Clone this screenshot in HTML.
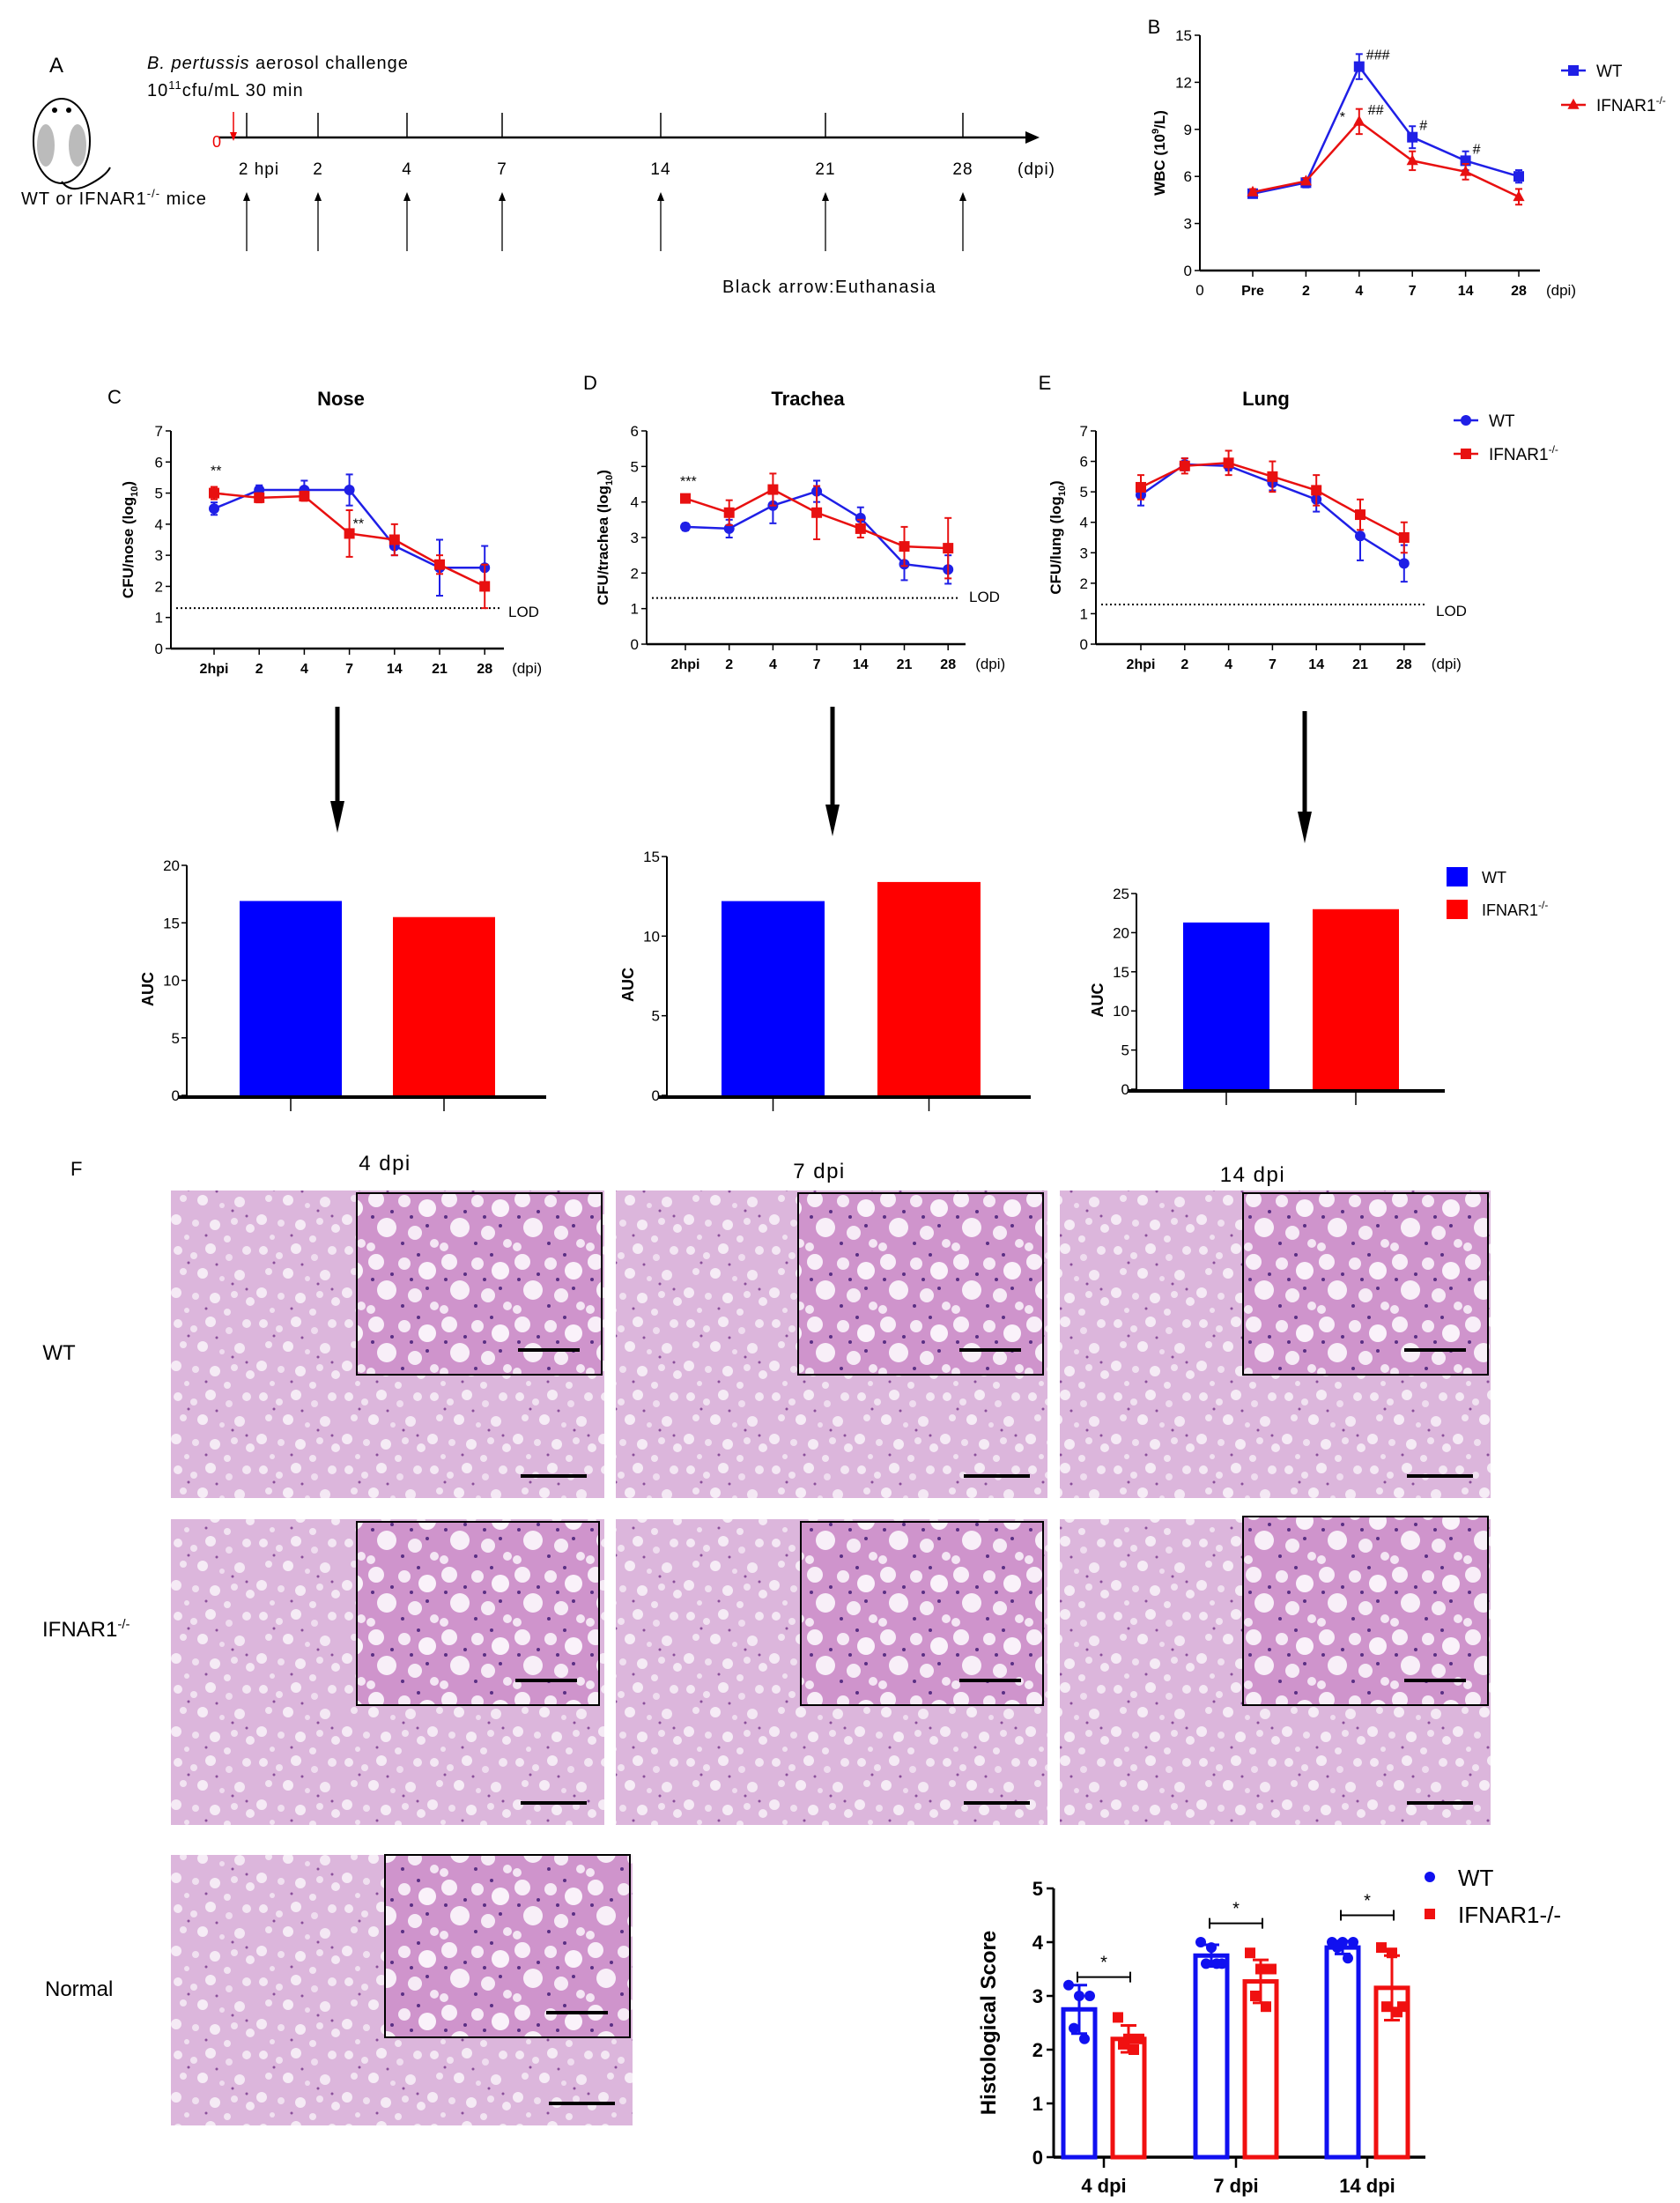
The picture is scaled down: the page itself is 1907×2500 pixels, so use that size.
<!DOCTYPE html>
<html><head><meta charset="utf-8"><style>
html,body{margin:0;padding:0;background:#fff;}
svg{display:block;font-family:"Liberation Sans",sans-serif;}
</style></head><body>
<svg id="fig" xmlns="http://www.w3.org/2000/svg" width="1907" height="2500" viewBox="0 0 1907 2500">
<defs>
<pattern id="tissue" width="97" height="83" patternUnits="userSpaceOnUse">
<rect width="97" height="83" fill="#dcb6dc"/>
<circle cx="8" cy="8" r="5" fill="#f4e8f4"/><circle cx="26" cy="14" r="4" fill="#f1e2f1"/>
<circle cx="45" cy="6" r="6" fill="#f5ebf5"/><circle cx="66" cy="16" r="4" fill="#efdcef"/>
<circle cx="86" cy="8" r="5" fill="#f3e6f3"/><circle cx="14" cy="32" r="4" fill="#f2e4f2"/>
<circle cx="36" cy="34" r="6" fill="#f6ecf6"/><circle cx="58" cy="40" r="3" fill="#efdcef"/>
<circle cx="78" cy="36" r="6" fill="#f4e8f4"/><circle cx="6" cy="56" r="6" fill="#f5eaf5"/>
<circle cx="28" cy="60" r="4" fill="#f0e0f0"/><circle cx="50" cy="62" r="6" fill="#f5ebf5"/>
<circle cx="72" cy="58" r="4" fill="#f1e2f1"/><circle cx="90" cy="66" r="5" fill="#f4e8f4"/>
<circle cx="18" cy="76" r="3" fill="#f0e0f0"/><circle cx="64" cy="78" r="4" fill="#f2e4f2"/>
<circle cx="20" cy="22" r="1.5" fill="#8a4f9a"/><circle cx="52" cy="24" r="1.5" fill="#8a4f9a"/>
<circle cx="70" cy="46" r="1.5" fill="#8a4f9a"/><circle cx="40" cy="74" r="1.5" fill="#8a4f9a"/>
<circle cx="86" cy="52" r="1.5" fill="#8a4f9a"/>
</pattern>
<pattern id="tissue2" width="83" height="71" patternUnits="userSpaceOnUse">
<rect width="83" height="71" fill="#cf94cc"/>
<circle cx="12" cy="12" r="9" fill="#f8eef8"/><circle cx="44" cy="14" r="7" fill="#f6eaf6"/>
<circle cx="70" cy="22" r="10" fill="#faf2fa"/><circle cx="24" cy="44" r="11" fill="#f8eff8"/>
<circle cx="56" cy="50" r="8" fill="#f6ebf6"/><circle cx="6" cy="66" r="5" fill="#f4e6f4"/>
<circle cx="78" cy="62" r="5" fill="#f4e6f4"/>
<circle cx="30" cy="26" r="2" fill="#5a2f84"/><circle cx="52" cy="32" r="2" fill="#5a2f84"/>
<circle cx="42" cy="62" r="2" fill="#5a2f84"/><circle cx="8" cy="32" r="2" fill="#5a2f84"/>
<circle cx="70" cy="42" r="2" fill="#5a2f84"/><circle cx="60" cy="4" r="2" fill="#5a2f84"/>
</pattern>
</defs>
<g id="root"></g>
</svg>
<script>
// ===== Data =====
const timeLabels = ["2hpi","2","4","7","14","21","28"];
const noseWT = [4.5,5.1,5.1,5.1,3.3,2.6,2.6];
const noseWTerr = [0.2,0.15,0.3,0.5,0.3,0.9,0.7];
const noseKO = [5.0,4.85,4.9,3.7,3.5,2.7,2.0];
const noseKOerr = [0.2,0.15,0.15,0.75,0.5,0.3,0.7];
const trachWT = [3.3,3.25,3.9,4.3,3.55,2.25,2.1];
const trachWTerr = [0.1,0.25,0.5,0.3,0.3,0.45,0.4];
const trachKO = [4.1,3.7,4.35,3.7,3.25,2.75,2.7];
const trachKOerr = [0.05,0.35,0.45,0.75,0.25,0.55,0.85];
const lungWT = [4.9,5.9,5.85,5.3,4.75,3.55,2.65];
const lungWTerr = [0.35,0.2,0.15,0.25,0.4,0.8,0.6];
const lungKO = [5.15,5.85,5.95,5.5,5.05,4.25,3.5];
const lungKOerr = [0.4,0.25,0.4,0.5,0.5,0.5,0.5];
const wbcLabels = ["Pre","2","4","7","14","28"];
const wbcWT = [4.9,5.6,13.0,8.5,7.0,6.0];
const wbcWTerr = [0.2,0.3,0.8,0.7,0.6,0.4];
const wbcKO = [5.0,5.7,9.5,7.0,6.3,4.7];
const wbcKOerr = [0.2,0.2,0.8,0.6,0.5,0.5];
const aucNose = [16.9,15.5];
const aucTrachea = [12.2,13.4];
const aucLung = [21.3,23.0];
const histoGroups = ["4 dpi","7 dpi","14 dpi"];
const histoWTmean = [2.75,3.75,3.9];
const histoWTsd = [0.45,0.2,0.12];
const histoKOmean = [2.2,3.27,3.15];
const histoKOsd = [0.25,0.4,0.6];
const histoWTpts = [[3.2,3.0,3.0,2.4,2.2],[4.0,3.9,3.6,3.6,3.6],[4.0,4.0,4.0,3.9,3.7]];
const histoKOpts = [[2.6,2.2,2.2,2.1,2.0],[3.8,3.5,3.5,3.0,2.8],[3.9,3.8,2.8,2.8,2.7]];

const NS="http://www.w3.org/2000/svg";
const root=document.getElementById('root');
function el(tag,attrs,parent,text){const e=document.createElementNS(NS,tag);for(const k in attrs)e.setAttribute(k,attrs[k]);if(text!==undefined)e.textContent=text;(parent||root).appendChild(e);return e;}
function grp(name,parent){const g=el('g',{},parent);


return g;}
function txt(p,x,y,s,size,o){o=o||{};const t=el('text',{x:x,y:y,'font-size':size,'text-anchor':o.anchor||'middle',fill:o.fill||'#000','font-weight':o.bold?'bold':'normal'},p,s);if(o.rot)t.setAttribute('transform','rotate(-90 '+x+' '+y+')');if(o.ls)t.setAttribute('letter-spacing',o.ls);


return t;}
function marker(p,type,x,y,color,s){
 if(type==='circle')return el('circle',{cx:x,cy:y,r:s,fill:color},p);
 if(type==='square')return el('rect',{x:x-s,y:y-s,width:2*s,height:2*s,fill:color},p);
 return el('polygon',{points:`${x},${y-s*1.2} ${x-s*1.1},${y+s*0.8} ${x+s*1.1},${y+s*0.8}`,fill:color},p);
}

// ===== Panel A =====
(function(){
 const g=grp('panel-a-timeline');
 txt(g,56,82,'A',24,{anchor:'start',name:'panel-letter-a'});
 const m=grp('mouse-icon',g);
 el('ellipse',{cx:70,cy:160,rx:32,ry:48,fill:'#fff',stroke:'#000','stroke-width':2},m);
 el('ellipse',{cx:52,cy:165,rx:10,ry:24,fill:'#bbb'},m);el('ellipse',{cx:88,cy:165,rx:10,ry:24,fill:'#bbb'},m);
 el('circle',{cx:62,cy:125,r:3,fill:'#000'},m);el('circle',{cx:78,cy:125,r:3,fill:'#000'},m);
 el('path',{d:'M70 206 Q80 220 100 210 Q120 200 125 190',fill:'none',stroke:'#000','stroke-width':2},m);
 txt(g,167,78,'',20,{anchor:'start',name:'challenge-title',ls:1}).innerHTML='<tspan font-style="italic">B. pertussis</tspan> aerosol challenge';
 txt(g,167,109,'',20,{anchor:'start',name:'dose-label',ls:1}).innerHTML='10<tspan font-size="13" dy="-8">11</tspan><tspan dy="8">cfu/mL 30 min</tspan>';
 txt(g,24,232,'',20,{anchor:'start',name:'mice-label',ls:1}).innerHTML='WT or IFNAR1<tspan font-size="13" dy="-8">-/-</tspan><tspan dy="8"> mice</tspan>';
 el('line',{x1:248,y1:156,x2:1170,y2:156,stroke:'#000','stroke-width':2.5},g);
 el('polygon',{points:'1180,156 1164,149 1164,163',fill:'#000'},g);
 const tx=[280,361,462,570,750,937,1093],tl=['2 hpi','2','4','7','14','21','28'];
 tx.forEach((x,i)=>{el('line',{x1:x,y1:128,x2:x,y2:156,stroke:'#000','stroke-width':1.5},g);
  txt(g,x+(i==0?14:0),198,tl[i],19,{name:'timeline-tick-label',ls:1});
  el('line',{x1:x,y1:285,x2:x,y2:225,stroke:'#000','stroke-width':1.3},g);
  el('polygon',{points:`${x},218 ${x-4},228 ${x+4},228`,fill:'#000'},g);});
 txt(g,1155,198,'(dpi)',19,{anchor:'start',name:'timeline-unit',ls:1});
 txt(g,246,167,'0',18,{fill:'#e00',name:'time-zero'});
 el('line',{x1:265,y1:127,x2:265,y2:152,stroke:'#e00','stroke-width':1.5},g);
 el('polygon',{points:'265,160 261,150 269,150',fill:'#e00'},g);
 txt(g,820,332,'Black arrow:Euthanasia',20,{anchor:'start',name:'arrow-legend',ls:1.5});
})();

// ===== Line chart helper =====
function lineChart(cfg){
 const g=grp(cfg.name);
 const y=v=>cfg.y0-(v/cfg.ymax)*(cfg.y0-cfg.ytop);
 const xs=i=>cfg.x0+cfg.step*i;
 if(cfg.letter)txt(g,cfg.letter[1],cfg.letter[2],cfg.letter[0],22,{name:'panel-letter'});
 if(cfg.title)txt(g,cfg.title[1],cfg.title[2],cfg.title[0],22,{bold:true,name:'chart-title'});
 el('line',{x1:cfg.ax,y1:cfg.ytop,x2:cfg.ax,y2:cfg.y0,stroke:'#000','stroke-width':2},g);
 el('line',{x1:cfg.ax,y1:cfg.y0,x2:cfg.xend,y2:cfg.y0,stroke:'#000','stroke-width':2.5},g);
 for(let v=0;v<=cfg.ymax;v+=cfg.ystep){el('line',{x1:cfg.ax-6,y1:y(v),x2:cfg.ax,y2:y(v),stroke:'#000','stroke-width':1.5},g);
  txt(g,cfg.ax-9,y(v)+6,String(v),17,{anchor:'end',name:'y-tick-label'});}
 cfg.labels.forEach((l,i)=>{el('line',{x1:xs(i),y1:cfg.y0,x2:xs(i),y2:cfg.y0+7,stroke:'#000','stroke-width':1.5},g);
  txt(g,xs(i),cfg.y0+28,l,16,{bold:true,name:'x-tick-label'});});
 txt(g,xs(cfg.labels.length-1)+48,cfg.y0+28,'(dpi)',17,{name:'x-unit'});
 if(cfg.zero)txt(g,cfg.ax,cfg.y0+28,'0',17,{name:'x-zero'});
 txt(g,cfg.ylx,(cfg.ytop+cfg.y0)/2,'',17,{bold:true,rot:true,name:'y-axis-title'}).innerHTML=cfg.ylabel;
 if(cfg.lod){el('line',{x1:cfg.ax+6,y1:y(1.3),x2:cfg.lod[0],y2:y(1.3),stroke:'#000','stroke-width':2,'stroke-dasharray':'2,3'},g);
  txt(g,cfg.lod[0]+10,cfg.lod[1],'LOD',17,{anchor:'start',name:'lod-label'});}
 cfg.series.forEach(s=>{const sg=grp(s.name,g);
  el('polyline',{points:s.v.map((v,i)=>xs(i)+','+y(v)).join(' '),fill:'none',stroke:s.c,'stroke-width':2.5},sg);
  s.v.forEach((v,i)=>{const e=s.e[i];
   el('line',{x1:xs(i),y1:y(v+e),x2:xs(i),y2:y(v-e),stroke:s.c,'stroke-width':2},sg);
   el('line',{x1:xs(i)-4,y1:y(v+e),x2:xs(i)+4,y2:y(v+e),stroke:s.c,'stroke-width':2},sg);
   el('line',{x1:xs(i)-4,y1:y(v-e),x2:xs(i)+4,y2:y(v-e),stroke:s.c,'stroke-width':2},sg);
   const mk=marker(sg,s.m,xs(i),y(v),s.c,6);
   
   });});
 (cfg.annots||[]).forEach(a=>txt(g,xs(a[0])+a[2],y(a[1])+a[3],a[4],16,{anchor:'start',name:'significance-mark'}));
 if(cfg.legend){cfg.legend.forEach((L,i)=>{const lg=grp('legend-entry',g);
  el('line',{x1:L[0],y1:L[1],x2:L[0]+28,y2:L[1],stroke:L[3],'stroke-width':2.5},lg);
  marker(lg,L[4],L[0]+14,L[1],L[3],6);
  txt(lg,L[0]+40,L[1]+7,'',19,{anchor:'start',name:'legend-label'}).innerHTML=L[2];});}
}
const koHtml='IFNAR1<tspan font-size="12" dy="-8">-/-</tspan>';
lineChart({name:'wbc-chart',letter:['B',1310,38],ax:1362,ytop:40,y0:307,ymax:15,ystep:3,x0:1422,step:60.4,xend:1748,labels:wbcLabels,zero:true,
 ylx:1322,ylabel:'WBC (10<tspan font-size="11" dy="-7">9</tspan><tspan dy="7">/L)</tspan>',
 series:[{name:'wbc-wt-series',v:wbcWT,e:wbcWTerr,c:'#1f1fe6',m:'square'},{name:'wbc-ko-series',v:wbcKO,e:wbcKOerr,c:'#e81010',m:'triangle'}],
 annots:[[2,13,8,-8,'###'],[2,9.5,10,-8,'##'],[2,9.5,-22,0,'*'],[3,8.5,8,-8,'#'],[4,7,8,-8,'#']],
 legend:[[1772,80,'WT','#1f1fe6','square'],[1772,119,koHtml,'#e81010','triangle']]});
lineChart({name:'nose-cfu-chart',letter:['C',130,458],title:['Nose',387,460],ax:194,ytop:489,y0:736,ymax:7,ystep:1,x0:243,step:51.2,xend:572,labels:timeLabels,
 ylx:151,ylabel:'CFU/nose (log<tspan font-size="11" dy="5">10</tspan><tspan dy="-5">)</tspan>',lod:[567,700],
 series:[{name:'nose-wt-series',v:noseWT,e:noseWTerr,c:'#1f1fe6',m:'circle'},{name:'nose-ko-series',v:noseKO,e:noseKOerr,c:'#e81010',m:'square'}],
 annots:[[0,5.0,-4,-20,'**'],[3,3.7,4,-6,'**']]});
lineChart({name:'trachea-cfu-chart',letter:['D',670,442],title:['Trachea',917,460],ax:734,ytop:489,y0:731,ymax:6,ystep:1,x0:778,step:49.7,xend:1096,labels:timeLabels,
 ylx:690,ylabel:'CFU/trachea (log<tspan font-size="11" dy="5">10</tspan><tspan dy="-5">)</tspan>',lod:[1090,683],
 series:[{name:'trachea-wt-series',v:trachWT,e:trachWTerr,c:'#1f1fe6',m:'circle'},{name:'trachea-ko-series',v:trachKO,e:trachKOerr,c:'#e81010',m:'square'}],
 annots:[[0,4.1,-6,-14,'***']]});
lineChart({name:'lung-cfu-chart',letter:['E',1186,442],title:['Lung',1437,460],ax:1244,ytop:489,y0:731,ymax:7,ystep:1,x0:1295,step:49.8,xend:1618,labels:timeLabels,
 ylx:1204,ylabel:'CFU/lung (log<tspan font-size="11" dy="5">10</tspan><tspan dy="-5">)</tspan>',lod:[1620,699],
 series:[{name:'lung-wt-series',v:lungWT,e:lungWTerr,c:'#1f1fe6',m:'circle'},{name:'lung-ko-series',v:lungKO,e:lungKOerr,c:'#e81010',m:'square'}],
 legend:[[1650,477,'WT','#1f1fe6','circle'],[1650,515,koHtml,'#e81010','square']]});

// big arrows
[[383,802,945],[945,802,949],[1481,807,957]].forEach(a=>{const g=grp('down-arrow');
 el('line',{x1:a[0],y1:a[1],x2:a[0],y2:a[2]-30,stroke:'#000','stroke-width':5},g);
 el('polygon',{points:`${a[0]-8},${a[2]-36} ${a[0]+8},${a[2]-36} ${a[0]},${a[2]}`,fill:'#000'},g);});

// ===== AUC bars =====
function aucChart(cfg){
 const g=grp(cfg.name);
 const y=v=>cfg.y0-(v/cfg.ymax)*(cfg.y0-cfg.ytop);
 el('line',{x1:cfg.ax,y1:cfg.ytop,x2:cfg.ax,y2:cfg.y0,stroke:'#000','stroke-width':2},g);
 const cols=['#0000ff','#ff0000'];
 cfg.vals.forEach((v,i)=>{const b=el('rect',{x:cfg.bx[i],y:y(v),width:cfg.bw,height:cfg.y0-y(v),fill:cols[i]},g);
  
  
  el('line',{x1:cfg.bx[i]+cfg.bw/2,y1:cfg.y0,x2:cfg.bx[i]+cfg.bw/2,y2:cfg.y0+18,stroke:'#000','stroke-width':1.5},g);});
 el('line',{x1:cfg.ax-10,y1:cfg.y0+2,x2:cfg.xend,y2:cfg.y0+2,stroke:'#000','stroke-width':4},g);
 for(let v=0;v<=cfg.ymax;v+=5){el('line',{x1:cfg.ax-6,y1:y(v),x2:cfg.ax,y2:y(v),stroke:'#000','stroke-width':1.5},g);
  txt(g,cfg.ax-8,y(v)+6,String(v),17,{anchor:'end',name:'y-tick-label'});}
 txt(g,cfg.ax-38,(cfg.ytop+cfg.y0)/2+10,'AUC',18,{bold:true,rot:true,name:'y-axis-title'});
}
aucChart({name:'auc-nose-chart',ax:212,ytop:982,y0:1243,ymax:20,vals:aucNose,bx:[272,446],bw:116,xend:620});
aucChart({name:'auc-trachea-chart',ax:757,ytop:972,y0:1243,ymax:15,vals:aucTrachea,bx:[819,996],bw:117,xend:1170});
aucChart({name:'auc-lung-chart',ax:1290,ytop:1014,y0:1236,ymax:25,vals:aucLung,bx:[1343,1490],bw:98,xend:1640});
(function(){const g=grp('auc-legend');
 [996,1033].forEach((yy,i)=>{
  el('rect',{x:1642,y:yy-12,width:24,height:22,fill:i?'#ff0000':'#0000ff'},g);
  txt(g,1682,yy+6,'',18,{anchor:'start',name:'legend-label'}).innerHTML=i?koHtml:'WT';});})();

// ===== Panel F histology =====
(function(){
 const g=grp('panel-f-histology');
 txt(g,80,1334,'F',22,{anchor:'start',name:'panel-letter-f'});
 [['4 dpi',437,1328],['7 dpi',930,1337],['14 dpi',1422,1341]].forEach(c=>txt(g,c[1],c[2],c[0],24,{name:'column-label',ls:1.5}));
 txt(g,67,1543,'WT',24,{name:'row-label-wt'});
 txt(g,48,1857,'',24,{anchor:'start',name:'row-label-ifnar1'}).innerHTML='IFNAR1<tspan font-size="15" dy="-9">-/-</tspan>';
 txt(g,51,2265,'Normal',24,{anchor:'start',name:'row-label-normal'});
 const panels=[[194,1351,492,349,405,1354,278,206],[699,1351,490,349,906,1354,278,206],[1203,1351,489,349,1411,1354,278,206],
  [194,1724,492,347,405,1727,275,208],[699,1724,490,347,909,1727,275,208],[1203,1724,489,347,1411,1721,278,214],
  [194,2105,524,307,437,2105,278,207]];
 panels.forEach(p=>{const pg=grp('histology-image',g);
  el('rect',{x:p[0],y:p[1],width:p[2],height:p[3],fill:'url(#tissue)'},pg);
  el('rect',{x:p[4],y:p[5],width:p[6],height:p[7],fill:'url(#tissue2)',stroke:'#000','stroke-width':2},pg);
  el('line',{x1:p[4]+p[6]-95,y1:p[5]+p[7]-28,x2:p[4]+p[6]-25,y2:p[5]+p[7]-28,stroke:'#000','stroke-width':4},pg);
  el('line',{x1:p[0]+p[2]-95,y1:p[1]+p[3]-25,x2:p[0]+p[2]-20,y2:p[1]+p[3]-25,stroke:'#000','stroke-width':4},pg);});
})();

// ===== Histology score chart =====
(function(){
 const g=grp('histology-score-chart');
 const ax=1196,ytop=2143,y0=2448,ymax=5;
 const y=v=>y0-(v/ymax)*(y0-ytop);
 const centers=[1253,1403,1552],bw=36,off=28;
 el('line',{x1:ax,y1:ytop,x2:ax,y2:y0,stroke:'#000','stroke-width':3},g);
 el('line',{x1:ax,y1:y0,x2:1618,y2:y0,stroke:'#000','stroke-width':3.5},g);
 for(let v=0;v<=5;v++){el('line',{x1:ax-8,y1:y(v),x2:ax,y2:y(v),stroke:'#000','stroke-width':2.5},g);
  txt(g,ax-12,y(v)+8,String(v),22,{anchor:'end',bold:true,name:'y-tick-label'});}
 txt(g,1130,(ytop+y0)/2,'Histological Score',24,{bold:true,rot:true,name:'y-axis-title'});
 histoGroups.forEach((lab,i)=>{const c=centers[i];
  el('line',{x1:c,y1:y0,x2:c,y2:y0+12,stroke:'#000','stroke-width':2.5},g);
  txt(g,c,y0+40,lab,22,{bold:true,name:'x-tick-label'});
  [[histoWTmean,histoWTsd,histoWTpts,'#1010f0',-off,'circle'],[histoKOmean,histoKOsd,histoKOpts,'#f01010',off,'square']].forEach(s=>{
   const bx=c+s[4];const m=s[0][i],sd=s[1][i];
   const b=el('rect',{x:bx-bw/2,y:y(m),width:bw,height:y0-y(m),fill:'none',stroke:s[3],'stroke-width':5},g);
   
   
   el('line',{x1:bx,y1:y(m+sd),x2:bx,y2:y(m-sd),stroke:s[3],'stroke-width':3},g);
   el('line',{x1:bx-9,y1:y(m+sd),x2:bx+9,y2:y(m+sd),stroke:s[3],'stroke-width':3},g);
   el('line',{x1:bx-9,y1:y(m-sd),x2:bx+9,y2:y(m-sd),stroke:s[3],'stroke-width':3},g);
   s[2][i].forEach((v,k)=>{const dx=[-12,0,12,-6,6][k];const mk=marker(g,s[5],bx+dx,y(v),s[3],6);
    
    });});
  const topv=Math.max(histoWTmean[i]+histoWTsd[i],histoKOmean[i]+histoKOsd[i])+0.15;
  const by=Math.min(y(topv),y(histoWTmean[i]+0.6));
  el('path',{d:`M${c-30} ${by-6} V${by+6} M${c-30} ${by} H${c+30} M${c+30} ${by-6} V${by+6}`,stroke:'#000','stroke-width':2,fill:'none'},g);
  txt(g,c,by-10,'*',20,{name:'significance-mark'});});
 const lg=grp('histology-legend',g);
 el('circle',{cx:1623,cy:2130,r:6,fill:'#1010f0'},lg);
 txt(lg,1655,2140,'WT',26,{anchor:'start',name:'legend-label'});
 el('rect',{x:1617,y:2166,width:12,height:12,fill:'#f01010'},lg);
 txt(lg,1655,2182,'IFNAR1-/-',26,{anchor:'start',name:'legend-label'});
})();
</script>
</body></html>
